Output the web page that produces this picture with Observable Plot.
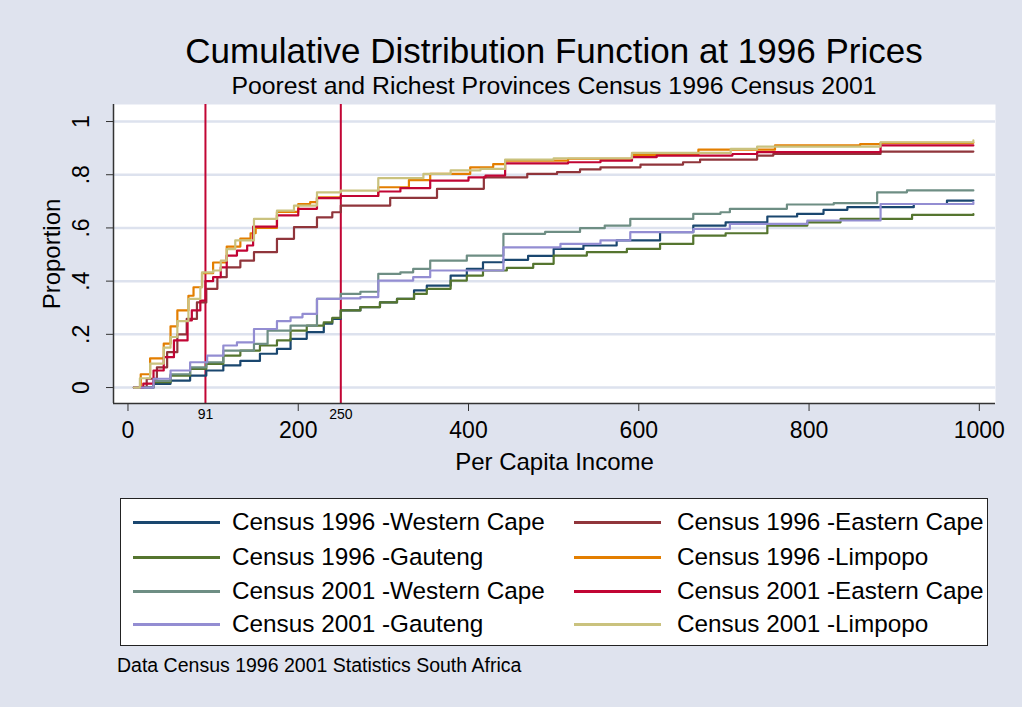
<!DOCTYPE html>
<html><head><meta charset="utf-8">
<script src="https://cdn.jsdelivr.net/npm/d3@7"></script>
<script src="https://cdn.jsdelivr.net/npm/@observablehq/plot@0.6"></script>
<style>
html,body{margin:0;padding:0;background:#dfe3ee;}
#page{position:relative;width:1022px;height:707px;overflow:hidden;background:#dfe3ee;font-family:"Liberation Sans",Arial,sans-serif;color:#000;}
.t{position:absolute;white-space:nowrap;line-height:1;}
#plotwrap{position:absolute;left:0;top:0;}
#legend{position:absolute;left:120px;top:498px;width:866px;height:146px;background:#fff;border:1px solid #222;}
.sw{position:absolute;height:3px;}
.lt{position:absolute;white-space:nowrap;line-height:1;font-size:24.3px;}
</style></head>
<body><div id="page"><div id="plotwrap"></div>
<div class="t" id="title" style="left:113px;width:882px;text-align:center;top:33px;font-size:35px;"></div>
<div class="t" id="subtitle" style="left:113px;width:882px;text-align:center;top:74px;font-size:24.8px;"></div>
<div id="legend"></div>
<div class="t" id="caption" style="left:117px;top:656px;font-size:19.5px;"></div>
</div>
<script>
// ---- text ----
const titleText = "Cumulative Distribution Function at 1996 Prices";
const subtitleText = "Poorest and Richest Provinces Census 1996 Census 2001";
const captionText = "Data Census 1996 2001 Statistics South Africa";
const xLabel = "Per Capita Income";
const yLabel = "Proportion";

// ---- series ----
const seriesNames = [
  "Census 1996 -Western Cape", "Census 1996 -Eastern Cape",
  "Census 1996 -Gauteng", "Census 1996 -Limpopo",
  "Census 2001 -Western Cape", "Census 2001 -Eastern Cape",
  "Census 2001 -Gauteng", "Census 2001 -Limpopo"
];
const seriesColors = ["#1a476f","#90353b","#55752f","#e37e00","#6e8e84","#c10534","#938dd2","#cac27e"];

const wc96Income = [7,30,50,73,92,112,132,155,175,191,210,230,240,250,273,296,316,336,351,379,398,417,441,470,500,535,574,625,664,702,751,786,817,845,923,962,993];
const wc96Prop   = [0,.014,.026,.045,.064,.083,.10,.127,.145,.183,.208,.24,.258,.29,.302,.32,.333,.365,.383,.421,.446,.471,.48,.495,.521,.534,.553,.584,.609,.621,.643,.653,.668,.678,.69,.703,.703];

const ec96Income = [7,22,34,46,58,69,81,92,105,116,132,148,175,195,222,240,250,308,363,418,469,504,531,555,602,652,672,739,758,884,993];
const ec96Prop   = [0,.033,.076,.133,.20,.258,.32,.371,.415,.452,.477,.509,.559,.603,.64,.659,.684,.713,.747,.79,.803,.81,.82,.828,.838,.847,.857,.872,.878,.887,.887];

const ga96Income = [7,30,50,73,92,112,132,155,175,191,210,230,240,250,273,296,316,336,351,379,398,417,445,476,500,539,586,625,664,702,751,798,837,921,993];
const ga96Prop   = [0,.02,.045,.07,.089,.12,.139,.158,.177,.214,.233,.245,.262,.29,.302,.32,.333,.352,.371,.402,.421,.44,.45,.465,.496,.509,.521,.54,.571,.58,.609,.621,.634,.649,.652];

const li96Income = [7,15,26,42,50,58,71,77,87,100,116,132,144,150,175,200,214,222,250,294,330,355,402,429,443,517,592,670,760,860,884,993];
const li96Prop   = [0,.05,.11,.165,.23,.29,.345,.377,.43,.47,.53,.56,.58,.60,.66,.69,.697,.715,.72,.753,.78,.803,.828,.84,.853,.86,.875,.894,.91,.915,.92,.92];

const wc01Income = [7,30,50,73,92,112,148,164,191,222,250,273,294,320,335,355,398,441,490,531,560,590,664,696,707,774,829,880,915,993];
const wc01Prop   = [0,.025,.05,.076,.095,.139,.164,.214,.233,.333,.352,.36,.427,.433,.446,.477,.496,.578,.585,.599,.609,.634,.653,.659,.672,.688,.693,.734,.741,.741];

const ec01Income = [7,18,30,42,54,70,75,85,91,100,109,116,128,140,147,175,200,222,250,294,320,355,400,420,443,517,555,592,621,710,739,884,993];
const ec01Prop   = [0,.015,.064,.114,.177,.252,.29,.327,.40,.415,.452,.496,.515,.534,.605,.647,.672,.712,.72,.737,.75,.778,.79,.797,.843,.847,.853,.866,.872,.878,.885,.91,.91];

const ga01Income = [7,30,50,73,93,112,128,148,175,191,205,222,250,273,294,335,355,441,508,555,590,664,707,798,884,993];
const ga01Prop   = [0,.033,.064,.095,.12,.158,.17,.22,.25,.264,.277,.333,.335,.34,.402,.415,.44,.527,.54,.553,.584,.596,.615,.628,.69,.697];

const li01Income = [7,14,26,42,50,58,71,85,87,100,109,116,126,148,175,195,222,250,294,347,379,414,443,500,592,708,739,884,993];
const li01Prop   = [0,.035,.09,.15,.19,.25,.333,.377,.433,.44,.477,.52,.553,.634,.665,.684,.734,.74,.787,.803,.816,.822,.857,.862,.882,.897,.906,.922,.929];

// ---- axes ----
const xTicks = [0,200,400,600,800,1000];
const yTicks = [0,.2,.4,.6,.8,1];
const yTickLabels = ["0",".2",".4",".6",".8","1"];
const refLines = [91,250];
const refLabels = ["91","250"];

const seriesData = [
  [wc96Income,wc96Prop],[ec96Income,ec96Prop],[ga96Income,ga96Prop],[li96Income,li96Prop],
  [wc01Income,wc01Prop],[ec01Income,ec01Prop],[ga01Income,ga01Prop],[li01Income,li01Prop]
];
const rows = seriesData.flatMap(([xs,ys],i)=>xs.map((x,j)=>({series:seriesNames[i],income:x,proportion:ys[j]})));

const X0 = -17, X1 = 1019, Y0 = -0.06, Y1 = 1.064;
const FONT = '"Liberation Sans", Arial, sans-serif';

const plot = Plot.plot({
  width:1022, height:480,
  marginLeft:113, marginRight:27, marginTop:104, marginBottom:77,
  style:{background:"transparent", fontFamily:FONT, fontSize:"23px", color:"#000", overflow:"visible"},
  x:{domain:[X0,X1]},
  y:{domain:[Y0,Y1]},
  color:{domain:seriesNames, range:seriesColors},
  marks:[
    Plot.frame({fill:"white", stroke:"none"}),
    Plot.gridY(yTicks, {stroke:"#dde2ee", strokeOpacity:1, strokeWidth:2.5}),
    Plot.ruleX(refLines, {stroke:"#c10534", strokeWidth:2}),
    Plot.line(rows, {x:"income", y:"proportion", z:"series", stroke:"series", curve:"step-after", strokeWidth:2.2}),
    Plot.ruleX([X0], {stroke:"#333", strokeWidth:1.5}),
    Plot.ruleY([Y0], {stroke:"#333", strokeWidth:1.5}),
    Plot.axisY(yTicks, {tickSize:7, tickFormat:()=>"", label:null, stroke:"#333"}),
    Plot.text(yTicks, {x:X0, y:d=>d, text:(d,i)=>yTickLabels[i], rotate:-90, dx:-32, fontSize:23}),
    Plot.axisX(xTicks, {tickSize:8, tickPadding:10, tickFormat:d=>String(d), label:null, fontSize:23, stroke:"#333"}),
    Plot.text(refLines, {x:d=>d, y:Y0, dy:11, text:(d,i)=>refLabels[i], fontSize:14}),
    Plot.text([yLabel], {frameAnchor:"left", textAnchor:"middle", lineAnchor:"middle", dx:-61, rotate:-90, text:d=>d, fontSize:24}),
    Plot.text([xLabel], {frameAnchor:"bottom", textAnchor:"middle", lineAnchor:"middle", dy:59, text:d=>d, fontSize:24})
  ]
});
document.getElementById("plotwrap").appendChild(plot);

document.getElementById("title").textContent = titleText;
document.getElementById("subtitle").textContent = subtitleText;
document.getElementById("caption").textContent = captionText;

// ---- legend (row-wise, two columns) ----
const color = plot.scale("color");
const legend = document.getElementById("legend");
const rowCenters = [23, 58, 92, 125];
const colSwatchX = [12, 453];
const colTextX = [111, 556];
seriesNames.forEach((name,i)=>{
  const r = Math.floor(i/2), c = i%2;
  const sw = document.createElement("div");
  sw.className = "sw";
  sw.style.left = colSwatchX[c]+"px";
  sw.style.width = "87px";
  sw.style.top = (rowCenters[r]-1.5)+"px";
  sw.style.background = color.apply(name);
  legend.appendChild(sw);
  const tx = document.createElement("div");
  tx.className = "lt";
  tx.style.left = colTextX[c]+"px";
  tx.style.top = (rowCenters[r]-12)+"px";
  tx.textContent = name;
  legend.appendChild(tx);
});
</script>
</body></html>
